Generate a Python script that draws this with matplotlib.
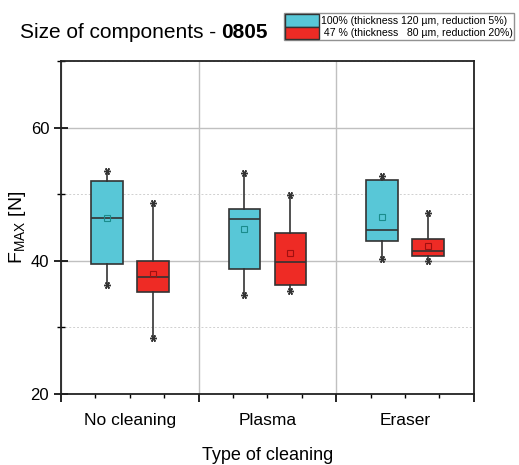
import matplotlib
matplotlib.use("Agg")
import matplotlib.pyplot as plt
from matplotlib.patches import Patch
from matplotlib.ticker import MultipleLocator

plt.rcParams["font.family"] = ["Liberation Sans", "DejaVu Sans"]

# Data
categories = ["No cleaning", "Plasma", "Eraser"]
series_labels = ["100% (thickness 120 µm, reduction 5%)",
                 " 47 % (thickness   80 µm, reduction 20%)"]

# [whisker low, q1, median, q3, whisker high, mean] per category
full_stats = [
    [36.3, 39.5, 46.4, 51.9, 53.4, 46.4],
    [34.8, 38.7, 46.3, 47.8, 53.1, 44.7],
    [40.2, 42.9, 44.6, 52.1, 52.7, 46.5],
]
reduced_stats = [
    [28.4, 35.3, 37.5, 39.9, 48.7, 38.0],
    [35.4, 36.4, 39.8, 44.2, 49.8, 41.1],
    [39.9, 40.7, 41.5, 43.2, 47.1, 42.2],
]

colors = ["#58c7d7", "#ee2b25"]
mean_colors = ["#1a8c8c", "#a01010"]


def to_bxp(rows):
    out = []
    for lo, q1, med, q3, hi, mean in rows:
        out.append(dict(whislo=lo, q1=q1, med=med, q3=q3, whishi=hi,
                        mean=mean, fliers=[]))
    return out


fig = plt.figure(figsize=(5.19, 4.65), dpi=100)
ax = fig.add_axes([0.1175, 0.153, 0.7955, 0.716])

offset = 0.167
width = 0.23
for i, rows in enumerate([full_stats, reduced_stats]):
    pos = [k + 1 + (offset if i else -offset) for k in range(len(categories))]
    ax.bxp(to_bxp(rows), positions=pos, widths=width, patch_artist=True,
           showmeans=True, showcaps=False, manage_ticks=False,
           boxprops=dict(facecolor=colors[i], edgecolor="#333333", linewidth=1.2),
           medianprops=dict(color="#333333", linewidth=1.2),
           whiskerprops=dict(color="#333333", linewidth=1.2),
           meanprops=dict(marker="s", markersize=4, markerfacecolor="none",
                          markeredgecolor=mean_colors[i], markeredgewidth=0.8))
    # whisker end markers
    ax.plot(pos, [r[0] for r in rows], ls="none", marker=(6, 2, 90),
            ms=5, color="#333333", mew=1)
    ax.plot(pos, [r[4] for r in rows], ls="none", marker=(6, 2, 90),
            ms=5, color="#333333", mew=1)

ax.set_xlim(0.5, 3.5)
ax.set_ylim(20, 70)

ax.set_xticks([0.5, 1.5, 2.5, 3.5])
ax.set_xticklabels([])
ax.xaxis.set_minor_locator(MultipleLocator(0.25))
ax.tick_params(axis="x", which="major", direction="out", length=6, width=1.2)
ax.tick_params(axis="x", which="minor", direction="out", length=3, width=1)
for k, c in enumerate(categories):
    ax.text(k + 1, -0.08, c, transform=ax.get_xaxis_transform(),
            ha="center", va="center", fontsize=12.5)

ax.set_yticks([20, 40, 60])
ax.yaxis.set_minor_locator(MultipleLocator(10))
ax.tick_params(axis="y", which="major", direction="inout", length=10,
               width=1.2, labelsize=12)
ax.tick_params(axis="y", which="minor", direction="inout", length=6, width=1)

ax.grid(True, which="major", axis="both", color="#c0c0c0", linewidth=1)
ax.grid(True, which="minor", axis="y", color="#d0d0d0", linestyle=(0, (2, 2)),
        linewidth=0.7)
ax.set_axisbelow(True)

for s in ax.spines.values():
    s.set_linewidth(1.3)
    s.set_color("#222222")

ax.set_xlabel("Type of cleaning", fontsize=13, labelpad=29)
ax.set_ylabel(r"F$_{\mathregular{MAX}}$ [N]", fontsize=14, labelpad=2)

# Title: regular part followed by bold part
title = fig.text(0.038, 0.931, "Size of components - ", fontsize=15, va="center")
fig.canvas.draw()
ax.annotate("0805", xy=(1, 0.5), xycoords=title, ha="left", va="center",
            fontsize=15, fontweight="bold", annotation_clip=False)

handles = [Patch(facecolor=colors[0], edgecolor="#333333"),
           Patch(facecolor=colors[1], edgecolor="#333333")]
fig.legend(handles, series_labels, loc="upper left",
           bbox_to_anchor=(0.548, 0.972), fontsize=7.6, frameon=True,
           fancybox=False, edgecolor="#777777", handlelength=3.2,
           handleheight=1.45, handletextpad=0.2, borderpad=0.1,
           labelspacing=0.0, borderaxespad=0)

fig.savefig("out.png", dpi=100)
